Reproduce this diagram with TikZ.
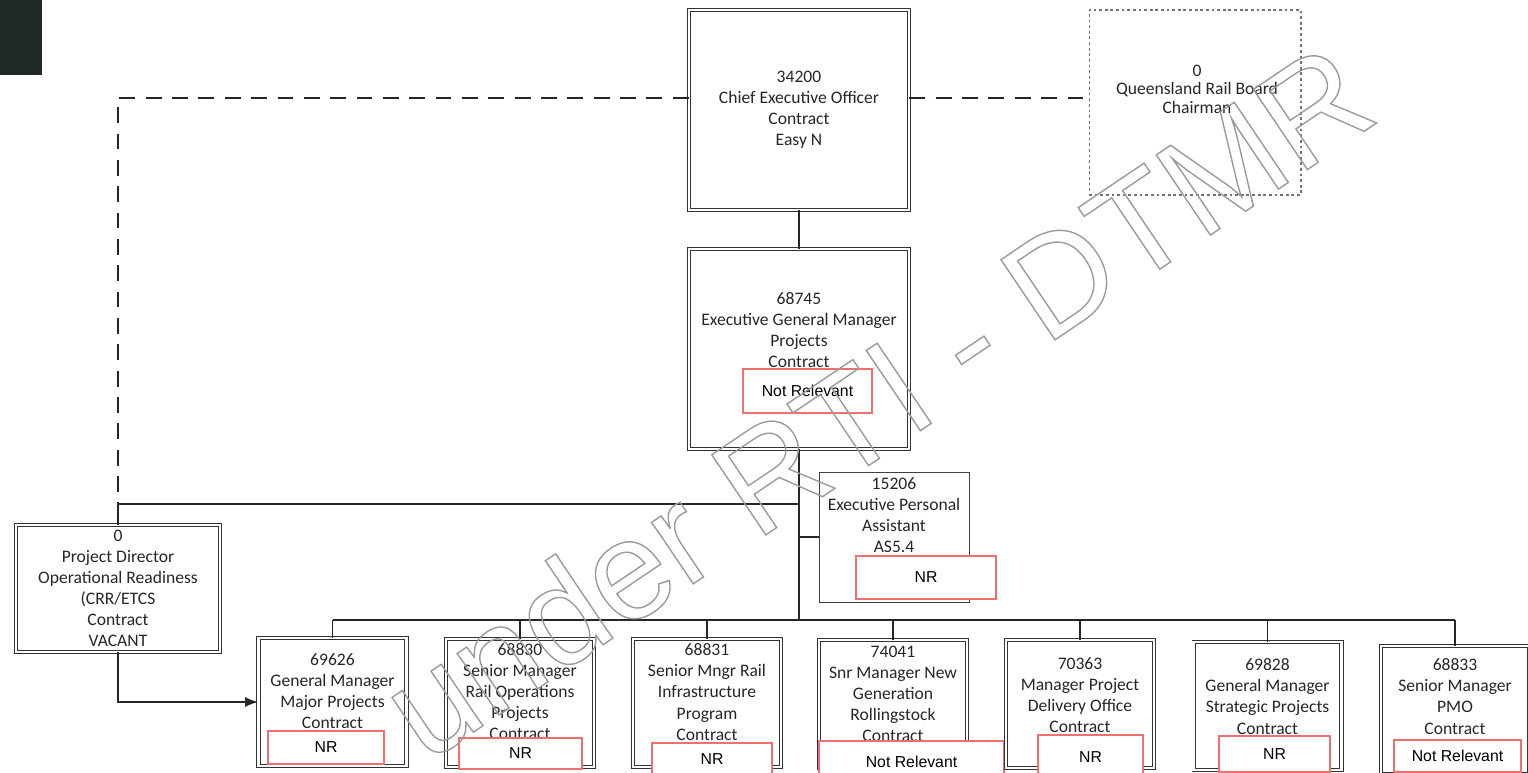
\documentclass[tikz,border=0pt]{standalone}
\usepackage{fontspec}
\setmainfont{Carlito}
\newfontfamily\nrfont{Liberation Sans}
\usetikzlibrary{arrows.meta}
\definecolor{redline}{RGB}{240,112,112}
\definecolor{scanmark}{RGB}{34,42,40}
\definecolor{wmgray}{RGB}{155,155,155}

\begin{document}
\begin{tikzpicture}[x=0.02cm, y=-0.02cm]
        \tikzset{
            frame/.style 2 args={draw=black!80, double=white, double distance=1.4pt, line width=0.45pt,
                minimum width=#1, minimum height=#2, inner sep=0pt},
            boardframe/.style={draw=black!55, line width=0.6pt, dash pattern=on 1.6pt off 1.6pt,
                minimum width=4.24cm, minimum height=3.7cm, inner sep=0pt},
            paframe/.style={draw=black!75, line width=0.5pt, minimum width=3cm, minimum height=2.6cm, inner sep=0pt},
            posttext/.style={align=center, font=\fontsize{10}{12}\selectfont, inner sep=0pt, text=black!85},
            redact/.style={draw=redline, fill=white, line width=0.8pt, inner sep=0pt,
                font=\nrfont\fontsize{9}{10}\selectfont, text height=1.3ex, text depth=0pt},
            link/.style={line width=0.8pt, black!85},
            dashlink/.style={line width=1.1pt, black!85, dash pattern=on 9pt off 6pt},
            watermark/.style={font=\nrfont\fontsize{80}{80}\selectfont, text=wmgray, inner sep=0pt}
        }
        \useasboundingbox (0,0) rectangle (1528,773);
        \fill[scanmark] (0,0) rectangle (42,75);

        % top row
        \node[frame={4.4cm}{4.0cm}] (ceo) at (799,110) {};
        \node[posttext] (ceotext) at (799,110) {34200\\Chief Executive Officer\\Contract\\Easy N};

        \node[boardframe] (board) at (1195,102.5) {};
        \node[posttext, font=\fontsize{10}{10.5}\selectfont] (boardtext) at (1197,89) {0\\Queensland Rail Board\\Chairman};

        % executive general manager
        \node[frame={4.4cm}{4.0cm}] (egm) at (799,349) {};
        \node[posttext] (egmtext) at (799,330) {68745\\Executive General Manager\\Projects\\Contract};
        \node[redact, minimum width=2.58cm, minimum height=0.88cm] (egmnr) at (807.5,391) {Not Relevant};

        \node[paframe] (pa) at (894,537) {};
        \node[posttext] (patext) at (894,515.5) {15206\\Executive Personal\\Assistant\\AS5.4};
        \node[redact, minimum width=2.8cm, minimum height=0.86cm] (panr) at (926,577.5) {NR};

        \node[frame={4.08cm}{2.54cm}] (pdor) at (118,588.5) {};
        \node[posttext] (pdortext) at (118,588.5) {0\\Project Director\\Operational Readiness\\(CRR/ETCS\\Contract\\VACANT};

        % bottom row
        \node[frame={2.96cm}{2.56cm}] (gmmp) at (332.5,702) {};
        \node[posttext] (gmmptext) at (332.5,691) {69626\\General Manager\\Major Projects\\Contract};
        \node[redact, minimum width=2.32cm, minimum height=0.66cm] (gmmpnr) at (326,747.5) {NR};

        \node[frame={2.96cm}{2.56cm}] (smro) at (520,703) {};
        \node[posttext] (smrotext) at (520,691.5) {68830\\Senior Manager\\Rail Operations\\Projects\\Contract};
        \node[redact, minimum width=2.46cm, minimum height=0.62cm] (smronr) at (520.5,753.5) {NR};

        \node[frame={2.96cm}{2.56cm}] (smri) at (707,703) {};
        \node[posttext] (smritext) at (707,692) {68831\\Senior Mngr Rail\\Infrastructure\\Program\\Contract};
        \node[redact, minimum width=2.4cm, minimum height=0.64cm] (smrinr) at (712,759) {NR};

        \node[frame={2.96cm}{2.56cm}] (snrng) at (893,704) {};
        \node[posttext] (snrngtext) at (893,694) {74041\\Snr Manager New\\Generation\\Rollingstock\\Contract};
        \node[redact, minimum width=3.7cm, minimum height=0.84cm] (snrngnr) at (911.5,762) {Not Relevant};

        \node[frame={2.96cm}{2.56cm}] (mpdo) at (1080,704) {};
        \node[posttext] (mpdotext) at (1080,695) {70363\\Manager Project\\Delivery Office\\Contract};
        \node[redact, minimum width=2.1cm, minimum height=0.88cm] (mpdonr) at (1090.5,757) {NR};

        \node[frame={2.96cm}{2.56cm}] (gmsp) at (1267.5,706) {};
        \node[posttext] (gmsptext) at (1267.5,696.5) {69828\\General Manager\\Strategic Projects\\Contract};
        \node[redact, minimum width=2.22cm, minimum height=0.72cm] (gmspnr) at (1274.5,754) {NR};

        \node[frame={2.96cm}{2.56cm}] (smpmo) at (1455,710) {};
        \node[posttext] (smpmotext) at (1455,696.5) {68833\\Senior Manager\\PMO\\Contract};
        \node[redact, minimum width=2.54cm, minimum height=0.64cm] (smpmonr) at (1457.5,756) {Not Relevant};

        % reporting lines
        \coordinate (pdjoin) at (118,504);
        \coordinate (rowbar) at (799,620);
        \coordinate (ceoL) at ([yshift=0.24cm]ceo.west);
        \coordinate (ceoR) at ([yshift=0.24cm]ceo.east);
        \draw[dashlink] (ceoL) -| (pdjoin);
        \draw[dashlink] (ceoR) -- (ceoR -| board.west);
        \draw[link] (ceo.south) -- (egm.north);
        \draw[link] (egm.south) -- (rowbar);
        \draw[link] (pdjoin) -- (pdjoin -| egm.south);
        \draw[link] (pdjoin) -- (pdor.north);
        \draw[link] (pa.west) -- (pa.west -| egm.south);
        \draw[link, -{Latex[length=2.6mm, width=2mm]}] (pdor.south) |- (gmmp.west);
        \draw[link] (gmmp.north |- rowbar) -- (smpmo.north |- rowbar);
        \foreach \post in {gmmp,smro,smri,snrng,mpdo,gmsp,smpmo}
            \draw[link] (\post.north) -- (\post.north |- rowbar);

        % watermark
        \node[watermark, rotate=34] (rti) at (876,400) {\special{pdf:literal direct 1 Tr 0.8 w}under RTI - DTMR\special{pdf:literal direct 0 Tr}};
    \end{tikzpicture}
\end{document}
